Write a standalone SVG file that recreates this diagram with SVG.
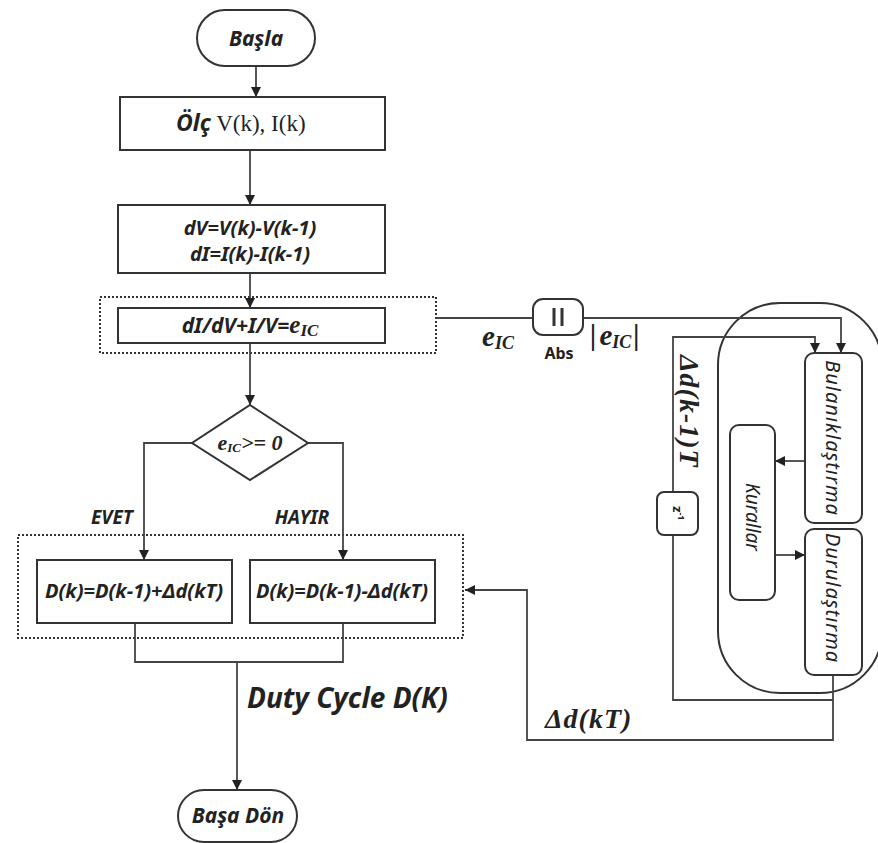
<svg xmlns="http://www.w3.org/2000/svg" width="878" height="843" viewBox="0 0 878 843">
<defs>
<marker id="ah" viewBox="0 0 10 10" refX="10" refY="5" markerWidth="10" markerHeight="10" markerUnits="userSpaceOnUse" orient="auto">
<path d="M0,0 L10,5 L0,10 z" fill="#222"/>
</marker>
<style>
.box{fill:#fff;stroke:#333;stroke-width:2}
.dot{fill:none;stroke:#333;stroke-width:2;stroke-dasharray:2 2}
.ln{fill:none;stroke:#444;stroke-width:1.8}
.t{font-family:"Noto Sans","Open Sans",sans-serif;font-style:italic;font-weight:bold;fill:#222}
.s{font-family:"Liberation Serif","Times New Roman",serif;font-style:italic;font-weight:bold;fill:#222}
.r{font-family:"Noto Sans","Open Sans",sans-serif;font-style:italic;fill:#222}
</style>
</defs>
<rect width="878" height="843" fill="#fff"/>

<g id="containers">
<rect class="dot" x="100" y="297" width="336" height="56"/>
<rect class="dot" x="18" y="535" width="445" height="103"/>
<rect x="718" y="303" width="164" height="390" rx="62" fill="none" stroke="#333" stroke-width="2"/>
</g>

<g id="connectors">
<line class="ln" x1="256" y1="66" x2="256" y2="97" marker-end="url(#ah)"/>
<line class="ln" x1="250" y1="150" x2="250" y2="205" marker-end="url(#ah)"/>
<line class="ln" x1="250" y1="273" x2="250" y2="308" marker-end="url(#ah)"/>
<line class="ln" x1="250" y1="343" x2="250" y2="405" marker-end="url(#ah)"/>
<polyline class="ln" points="192,443 144,443 144,560" marker-end="url(#ah)"/>
<polyline class="ln" points="308,443 343,443 343,560" marker-end="url(#ah)"/>
<polyline class="ln" points="135,623 135,662 343,662 343,623"/>
<line class="ln" x1="237" y1="662" x2="237" y2="790" marker-end="url(#ah)"/>
<line class="ln" x1="436" y1="318" x2="533" y2="318"/>
<polyline class="ln" points="583,318 841,318 841,353" marker-end="url(#ah)"/>
<polyline class="ln" points="673,492 673,337 815,337 815,353" marker-end="url(#ah)"/>
<line class="ln" x1="805" y1="461" x2="775" y2="461" marker-end="url(#ah)"/>
<line class="ln" x1="775" y1="555" x2="805" y2="555" marker-end="url(#ah)"/>
<polyline class="ln" points="833,675 833,740 527,740 527,590 465,590" marker-end="url(#ah)"/>
<polyline class="ln" points="833,700 673,700 673,535"/>
</g>

<g id="basla">
<rect class="box" x="197" y="10" width="118" height="56" rx="28"/>
<text class="t" x="256" y="46" font-size="21" text-anchor="middle">Başla</text>
</g>

<g id="olc">
<rect class="box" x="120" y="97" width="265" height="53"/>
<text x="176" y="131" font-size="23"><tspan class="t">Ölç</tspan><tspan font-family="Liberation Serif,serif" fill="#222"> V(k), I(k)</tspan></text>
</g>

<g id="diff">
<rect class="box" x="118" y="205" width="267" height="68"/>
<text class="t" x="250" y="235" font-size="20" text-anchor="middle">dV=V(k)-V(k-1)</text>
<text class="t" x="250" y="261" font-size="20" text-anchor="middle">dI=I(k)-I(k-1)</text>
</g>

<g id="eic">
<rect class="box" x="118" y="308" width="267" height="35"/>
<text x="250" y="333" font-size="21" text-anchor="middle"><tspan class="t">dI/dV+I/V=</tspan><tspan class="s" font-size="25">e</tspan><tspan class="s" font-size="17" dy="3">IC</tspan></text>
</g>

<g id="decision">
<polygon class="box" points="250,405 308,443 250,480 192,443"/>
<text x="250" y="450" font-size="22" text-anchor="middle" font-family="Liberation Serif,serif" font-style="italic" font-weight="bold" fill="#222">e<tspan font-size="13" dy="2">IC</tspan><tspan dy="-2">&gt;= 0</tspan></text>
</g>

<g id="labels">
<text class="t" x="112" y="524" font-size="19" text-anchor="middle">EVET</text>
<text class="t" x="302" y="524" font-size="19" text-anchor="middle">HAYIR</text>
<text class="t" x="247" y="708" font-size="28">Duty Cycle D(K)</text>
<text class="s" x="482" y="346" font-size="29">e<tspan font-size="18" dy="3">IC</tspan></text>
<text class="s" x="590" y="345" font-size="29">|<tspan dx="3">e</tspan><tspan font-size="18" dy="3">IC</tspan><tspan dy="-3" dx="2">|</tspan></text>
<text class="s" x="545" y="728" font-size="28" letter-spacing="1">Δd(kT)</text>
<text class="s" font-size="28" letter-spacing="1" transform="translate(680,355) rotate(90)">Δd(k-1)T</text>
</g>

<g id="incr">
<rect class="box" x="37" y="560" width="195" height="63"/>
<text class="t" x="134" y="598" font-size="19" text-anchor="middle" textLength="178" lengthAdjust="spacingAndGlyphs">D(k)=D(k-1)+Δd(kT)</text>
</g>

<g id="decr">
<rect class="box" x="250" y="560" width="185" height="63"/>
<text class="t" x="342" y="598" font-size="19" text-anchor="middle" textLength="172" lengthAdjust="spacingAndGlyphs">D(k)=D(k-1)-Δd(kT)</text>
</g>

<g id="basadon">
<rect class="box" x="178" y="790" width="119" height="52" rx="26"/>
<text class="t" x="238" y="823" font-size="21" text-anchor="middle">Başa Dön</text>
</g>

<g id="abs">
<rect class="box" x="533" y="299" width="50" height="36" rx="10"/>
<line x1="554" y1="308" x2="554" y2="326" stroke="#333" stroke-width="3"/>
<line x1="562" y1="308" x2="562" y2="326" stroke="#333" stroke-width="3"/>
<text x="559" y="359" font-size="16" font-weight="bold" text-anchor="middle" font-family="Noto Sans,sans-serif" fill="#222">Abs</text>
</g>

<g id="delay">
<rect class="box" x="657" y="492" width="41" height="43" rx="7"/>
<text transform="translate(673,506) rotate(90)" font-size="13" font-weight="bold" font-family="Noto Sans,sans-serif" fill="#222">z<tspan font-size="9" dy="-5">-1</tspan></text>
</g>

<g id="bulanik">
<rect class="box" x="805" y="353" width="57" height="170" rx="9"/>
<text class="r" transform="translate(826,438) rotate(90)" font-size="20" text-anchor="middle" letter-spacing="1">Bulanıklaştırma</text>
</g>

<g id="durulas">
<rect class="box" x="805" y="529" width="57" height="146" rx="9"/>
<text class="r" transform="translate(826,598) rotate(90)" font-size="20" text-anchor="middle" letter-spacing="1">Durulaştırma</text>
</g>

<g id="kurallar">
<rect class="box" x="730" y="425" width="45" height="175" rx="9"/>
<text class="r" transform="translate(746,517) rotate(90)" font-size="19" text-anchor="middle">Kurallar</text>
</g>
</svg>
